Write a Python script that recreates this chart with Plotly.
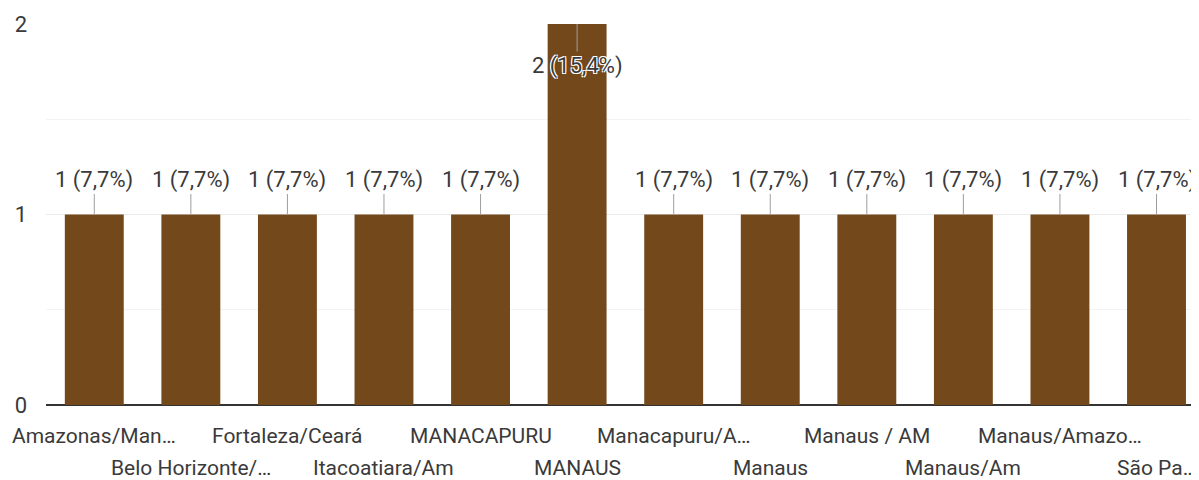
import plotly.graph_objects as go

categories = ["Amazonas/Man…", "Belo Horizonte/…", "Fortaleza/Ceará", "Itacoatiara/Am",
              "MANACAPURU", "MANAUS", "Manacapuru/A…", "Manaus", "Manaus / AM",
              "Manaus/Am", "Manaus/Amazo…", "São Pa…"]
values = [1, 1, 1, 1, 1, 2, 1, 1, 1, 1, 1, 1]
labels = ["1 (7,7%)"] * 5 + ["2 (15,4%)"] + ["1 (7,7%)"] * 6
ytick_vals = [0, 1, 2]

BAR = "#73481b"
FONT = "Roboto"
HALO = "1px 1px 0 white, -1px -1px 0 white, 1px -1px 0 white, -1px 1px 0 white"

xs = list(range(len(categories)))
fig = go.Figure(go.Bar(x=xs, y=values, marker=dict(color=BAR, line=dict(width=0)),
                       width=0.61, hoverinfo="skip"))

vmax = max(values)
anns = []
for i, (v, t) in enumerate(zip(values, labels)):
    inside = v == vmax
    anns.append(dict(x=i, y=v, xref="x", yref="y", text=t, showarrow=True,
                     arrowhead=0, arrowwidth=1, arrowcolor="#9e9e9e",
                     ax=0, ay=42 if inside else -35,
                     font=dict(family=FONT, size=22, color="#3a3a3a",
                               shadow=HALO if inside else "none")))
for i, c in enumerate(categories):
    anns.append(dict(x=i, y=0, xref="x", yref="y", text=c, showarrow=False,
                     yanchor="middle", yshift=-31 if i % 2 == 0 else -63,
                     font=dict(family=FONT, size=21, color="#3a3a3a")))

fig.update_layout(
    width=1191, height=472,
    margin=dict(l=38, r=0, t=16, b=75),
    plot_bgcolor="white", paper_bgcolor="white",
    showlegend=False,
    annotations=anns,
    xaxis=dict(range=[-0.5, 11.44], showticklabels=False, showgrid=False,
               zeroline=False, showline=False, fixedrange=True),
    yaxis=dict(range=[0, 2], tickvals=ytick_vals, ticktext=[str(v) for v in ytick_vals],
               showgrid=True, gridcolor="#ebebeb", gridwidth=1,
               minor=dict(dtick=0.5, showgrid=True, gridcolor="#f3f3f3", gridwidth=1),
               zeroline=True, zerolinecolor="#333333", zerolinewidth=2,
               ticks="", ticklabelstandoff=18,
               tickfont=dict(family=FONT, size=22, color="#3a3a3a")),
)

fig.write_html("out.html")
